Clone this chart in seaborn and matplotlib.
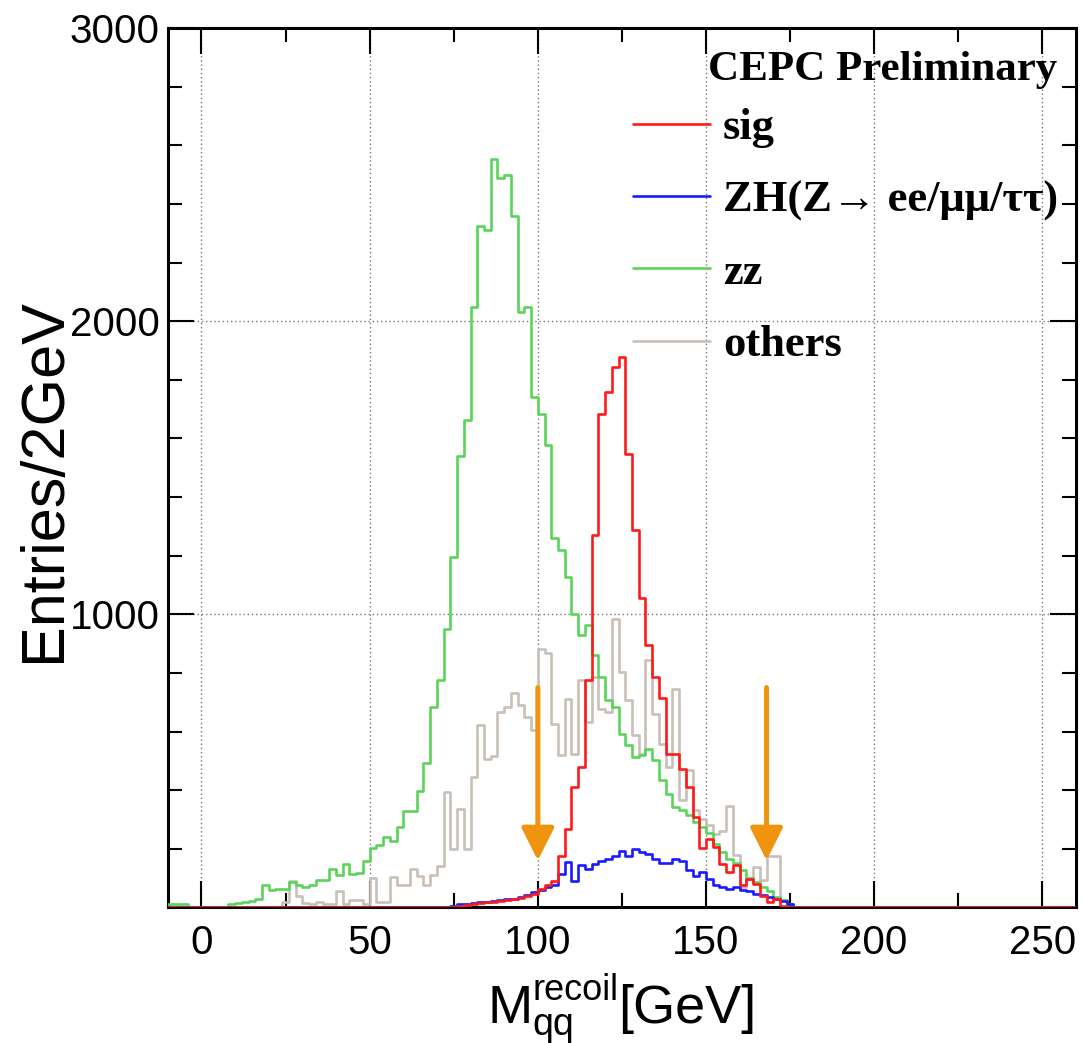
import numpy as np
import pandas as pd
import seaborn as sns
import matplotlib.pyplot as plt
from matplotlib.lines import Line2D

# histogram binning: 2 GeV bins from -10 to 260 GeV
x_min, x_max, bin_width = -10, 260, 2

# entries per bin, the first value belongs to the bin starting at *_start
zz_start = -10
zz_counts = [10, 10, 10, 0, 0, 0, 0, 0, 0, 12, 15, 20, 22, 28, 75, 58, 62, 64, 87, 78,
             69, 75, 92, 95, 131, 112, 148, 114, 117, 159, 202, 213, 239, 225, 275, 330,
             330, 398, 492, 683, 777, 951, 1196, 1539, 1662, 2049, 2325, 2313, 2552, 2489,
             2498, 2360, 2032, 2049, 1742, 1685, 1577, 1259, 1218, 1127, 1000, 928, 962, 860,
             786, 706, 684, 593, 553, 513, 520, 540, 502, 434, 388, 343, 331, 314, 290, 275,
             255, 217, 190, 165, 150, 128, 100, 86, 70, 57, 35, 24, 10]

sig_start = 74
sig_counts = [3, 5, 8, 12, 15, 18, 20, 22, 25, 28, 32, 40, 47, 62, 78, 90, 177, 268, 410,
              479, 775, 1270, 1685, 1759, 1844, 1878, 1548, 1287, 1055, 895, 786, 715, 522,
              522, 473, 410, 308, 203, 234, 206, 149, 120, 143, 75, 97, 80, 40, 18, 30, 5]

zh_start = 74
zh_counts = [5, 10, 12, 15, 17, 20, 22, 25, 28, 30, 35, 42, 52, 58, 69, 75, 114, 155, 91,
             143, 132, 149, 160, 166, 177, 194, 177, 200, 189, 183, 166, 150, 150, 165, 158,
             126, 106, 122, 97, 75, 69, 63, 70, 58, 55, 46, 41, 35, 30, 22, 12]

others_start = 24
others_counts = [20, 90, 40, 15, 10, 20, 10, 10, 55, 10, 25, 25, 10, 100, 20, 20, 104, 75,
                 75, 132, 106, 75, 110, 140, 394, 200, 336, 200, 445, 621, 505, 515, 667,
                 684, 730, 690, 650, 604, 883, 868, 627, 519, 712, 524, 775, 632, 786, 678,
                 666, 985, 803, 707, 587, 524, 843, 661, 558, 479, 746, 365, 468, 331, 300,
                 280, 250, 260, 345, 180, 70, 98, 137, 92, 177, 177, 24, 10]

samples = ["sig", "ZH", "zz", "others"]
labels = ["sig", "ZH(Z\u2192 ee/\u03bc\u03bc/\u03c4\u03c4)", "zz", "others"]
colors = {"sig": "#ff1a1a", "ZH": "#1a1aff", "zz": "#5ad45a", "others": "#c9c0b8"}

cut_values = [100, 168]

n_bins = (x_max - x_min) // bin_width
centers = x_min + bin_width * (np.arange(n_bins) + 0.5)


def fill_bins(start, counts):
    arr = np.zeros(n_bins)
    i0 = (start - x_min) // bin_width
    arr[i0:i0 + len(counts)] = counts
    return arr


series = {"sig": (sig_start, sig_counts), "ZH": (zh_start, zh_counts),
          "zz": (zz_start, zz_counts), "others": (others_start, others_counts)}
frames = []
for name, (start, counts) in series.items():
    frames.append(pd.DataFrame({"mass": centers, "entries": fill_bins(start, counts),
                                "sample": name}))
df = pd.concat(frames, ignore_index=True)

sns.set_style("ticks")
plt.rcParams["font.family"] = ["Liberation Sans", "DejaVu Sans"]
plt.rcParams.update({"text.color": "black", "axes.labelcolor": "black",
                     "axes.edgecolor": "black", "xtick.color": "black",
                     "ytick.color": "black"})

fig = plt.figure(figsize=(10.83, 10.43), dpi=100)
ax = fig.add_axes([0.155, 0.130, 0.8385, 0.843])

sns.histplot(data=df, x="mass", weights="entries", hue="sample", hue_order=samples,
             bins=n_bins, binrange=(x_min, x_max), element="step", fill=False,
             palette=colors, linewidth=1.9, legend=False, ax=ax)
for line in ax.lines:
    line.set_zorder(2.6)

# cut arrows
for c in cut_values:
    ax.annotate("", xy=(c, 160), xytext=(c, 750),
                arrowprops=dict(arrowstyle="-|>,head_length=1.0,head_width=0.5",
                                mutation_scale=20, color="#f0940f", lw=3.6,
                                shrinkA=0, shrinkB=0))

ax.set_xlim(x_min, x_max)
ax.set_ylim(0, 3000)
ax.set_xticks([0, 50, 100, 150, 200, 250])
ax.set_xticks(np.arange(0, 260, 25), minor=True)
ax.set_yticks([0, 1000, 2000, 3000])
ax.set_yticks(np.arange(0, 3001, 200), minor=True)
ax.set_yticklabels(["", "1000", "2000", "3000"])
ax.grid(True, which="major", linestyle=(0, (1, 2)), color="#777777", linewidth=1.0)
ax.tick_params(which="both", direction="in", top=True, right=True, labelsize=29,
               width=1.5, colors="black")
ax.tick_params(which="major", length=19, pad=6)
ax.tick_params(axis="x", which="major", pad=12)
ax.tick_params(which="minor", length=10)
for s in ax.spines.values():
    s.set_linewidth(2.2)
    s.set_color("black")

ax.set_xlabel("")
ax.set_ylabel("Entries/2GeV", fontsize=44)
ax.yaxis.set_label_coords(-0.104, 0.486)

# x title built as M, superscript, subscript and unit
y_base = 1 - 1023 / 1043
t_m = fig.text(487 / 1083, y_base, "M", fontsize=39, va="baseline", ha="left")
t_sup = ax.annotate("recoil", xy=(1, 1 - 1000 / 1043), xycoords=(t_m, "figure fraction"),
                    fontsize=26, va="baseline", ha="left")
ax.annotate("qq", xy=(1, 1 - 1035 / 1043), xycoords=(t_m, "figure fraction"),
            fontsize=27, va="baseline", ha="left", annotation_clip=False)
ax.annotate("[GeV]", xy=(1, y_base), xycoords=(t_sup, "figure fraction"),
            fontsize=39, va="baseline", ha="left")

serif_bold = dict(family=["Liberation Serif", "DejaVu Serif"], weight="bold")
ax.text(0.787, 0.952, "CEPC Preliminary", transform=ax.transAxes, ha="center",
        va="center", fontsize=31, **serif_bold)

handles = [Line2D([], [], color=colors[s], lw=1.9) for s in samples]
ax.legend(handles, labels, loc="upper left", bbox_to_anchor=(0.512, 0.909),
          frameon=False, prop=dict(size=32, **serif_bold), handlelength=1.73,
          handletextpad=0.3, labelspacing=0.72, borderaxespad=0, borderpad=0)

fig.savefig("out.png", dpi=100)
